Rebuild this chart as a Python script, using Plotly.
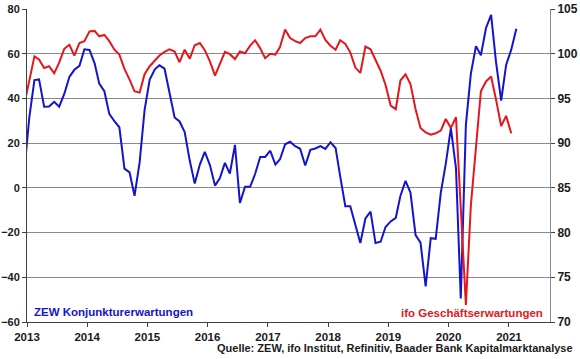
import plotly.graph_objects as go
import pandas as pd

# Monthly data (Dec 2012 .. Feb 2021 for ZEW; Dec 2012 .. Jan 2021 for ifo)
zew_start = "2012-12"
zew_values = [6.9,
    31.5, 48.2, 48.5, 36.3, 36.4, 38.5, 36.3, 42.0, 49.6, 52.8, 54.6, 62.0,
    61.7, 55.7, 46.6, 43.2, 33.1, 29.8, 27.1, 8.6, 6.9, -3.6, 11.5, 34.9,
    48.4, 53.0, 54.8, 53.3, 41.9, 31.5, 29.7, 25.0, 12.1, 1.9, 10.4, 16.1,
    10.2, 1.0, 4.3, 11.2, 6.4, 19.2, -6.8, 0.5, 0.5, 6.2, 13.8, 13.8,
    16.6, 10.4, 12.8, 19.5, 20.6, 18.6, 17.5, 10.0, 17.0, 17.6, 18.7, 17.4,
    20.4, 17.8, 5.1, -8.2, -8.2, -16.1, -24.7, -13.7, -10.6, -24.7, -24.1, -17.5,
    -15.0, -13.4, -3.6, 3.1, -2.1, -21.1, -24.5, -44.1, -22.5, -22.8, -2.1, 10.7,
    26.7, 8.7, -49.5, 28.2, 51.0, 63.4, 59.3, 71.5, 77.4, 56.1, 39.0, 55.0,
    61.8, 71.2]

ifo_start = "2012-12"
ifo_values = [94.3,
    96.9, 99.7, 99.35, 98.4, 98.6, 97.8, 99.0, 100.55, 101.0, 99.8, 101.2, 101.4,
    102.5, 102.55, 101.95, 102.1, 101.4, 100.45, 99.9, 98.3, 97.1, 95.8, 95.65, 97.7,
    98.6, 99.25, 99.8, 100.2, 100.5, 100.25, 99.05, 100.45, 99.45, 100.95, 101.2, 100.4,
    99.15, 97.55, 98.9, 100.2, 99.95, 99.4, 100.25, 100.05, 100.9, 101.5, 100.6, 99.5,
    100.0, 99.9, 100.75, 102.7, 101.75, 101.4, 101.2, 101.75, 101.95, 101.95, 102.7, 101.55,
    100.9, 100.45, 101.5, 101.1, 100.15, 98.45, 97.85, 100.8, 100.5, 99.4, 98.1, 96.5,
    94.2, 93.8, 97.0, 97.7, 96.6, 93.8, 91.7, 91.2, 90.95, 91.1, 91.4, 92.7,
    91.7, 92.9, 82.4, 71.9, 83.0, 90.0, 95.8, 96.9, 97.45, 94.85, 91.9, 93.05,
    91.1]

year_ticks = ["2013", "2014", "2015", "2016", "2017", "2018", "2019", "2020", "2021"]

def mid_month_dates(start, n):
    months = pd.period_range(start=start, periods=n, freq="M")
    return [m.start_time + pd.Timedelta(days=14) for m in months]

zew_dates = mid_month_dates(zew_start, len(zew_values))
ifo_dates = mid_month_dates(ifo_start, len(ifo_values))

BLUE = "#1414cc"
RED = "#e3171c"
FONT = "Liberation Sans, Arial, sans-serif"
TXT = "#1a1a1a"

fig = go.Figure()
fig.add_trace(go.Scatter(x=zew_dates, y=zew_values, mode="lines",
                         line=dict(color=BLUE, width=2), name="ZEW Konjunkturerwartungen",
                         yaxis="y"))
fig.add_trace(go.Scatter(x=ifo_dates, y=ifo_values, mode="lines",
                         line=dict(color=RED, width=2), name="ifo Geschäftserwartungen",
                         yaxis="y2"))

fig.update_layout(
    width=580, height=359,
    margin=dict(l=27, r=30, t=9, b=37),
    paper_bgcolor="white", plot_bgcolor="white",
    showlegend=False,
    font=dict(family=FONT, color=TXT),
    xaxis=dict(
        type="date", automargin=False,
        range=["2013-01-01", "2021-09-07"],
        tickvals=[f"{y}-01-01" for y in year_ticks],
        ticktext=year_ticks,
        ticks="outside", ticklen=4, tickcolor="#404040",
        showline=True, linecolor="#404040", linewidth=1,
        showgrid=False, zeroline=False,
        tickfont=dict(family=FONT, size=11.5, color=TXT, weight="bold"),
    ),
    yaxis=dict(
        automargin=False,
        range=[-60, 80], dtick=20, tick0=-60,
        ticks="outside", ticklen=4, tickcolor="#404040",
        showline=True, linecolor="#404040", linewidth=1,
        showgrid=True, gridcolor="#8a8a8a", gridwidth=1,
        zeroline=False,
        tickfont=dict(family=FONT, size=11, color=TXT, weight="bold"),
    ),
    yaxis2=dict(
        automargin=False,
        range=[70, 105], dtick=5, tick0=70,
        overlaying="y", side="right",
        ticks="outside", ticklen=4, tickcolor="#404040",
        showline=True, linecolor="#8a8a8a", linewidth=1,
        showgrid=False, zeroline=False,
        tickfont=dict(family=FONT, size=12, color=TXT, weight="bold"),
    ),
    annotations=[
        dict(text="<b>ZEW Konjunkturerwartungen</b>", xref="paper", yref="paper",
             x=0.009, y=0.032, xanchor="left", yanchor="middle", showarrow=False,
             font=dict(family=FONT, size=11.5, color=BLUE)),
        dict(text="<b>ifo Geschäftserwartungen</b>", xref="paper", yref="paper",
             x=0.990, y=0.030, xanchor="right", yanchor="middle", showarrow=False,
             font=dict(family=FONT, size=11.5, color=RED)),
        dict(text="<b>Quelle: ZEW, ifo Institut, Refinitiv, Baader Bank Kapitalmarktanalyse</b>",
             xref="paper", yref="paper", x=1.048, y=-0.083, xanchor="right", yanchor="middle",
             showarrow=False, font=dict(family=FONT, size=11, color=TXT)),
    ],
)

fig.write_html("out.html",
               config={"displayModeBar": False},
               post_script="document.body.style.margin='0';document.body.style.overflow='hidden';")
